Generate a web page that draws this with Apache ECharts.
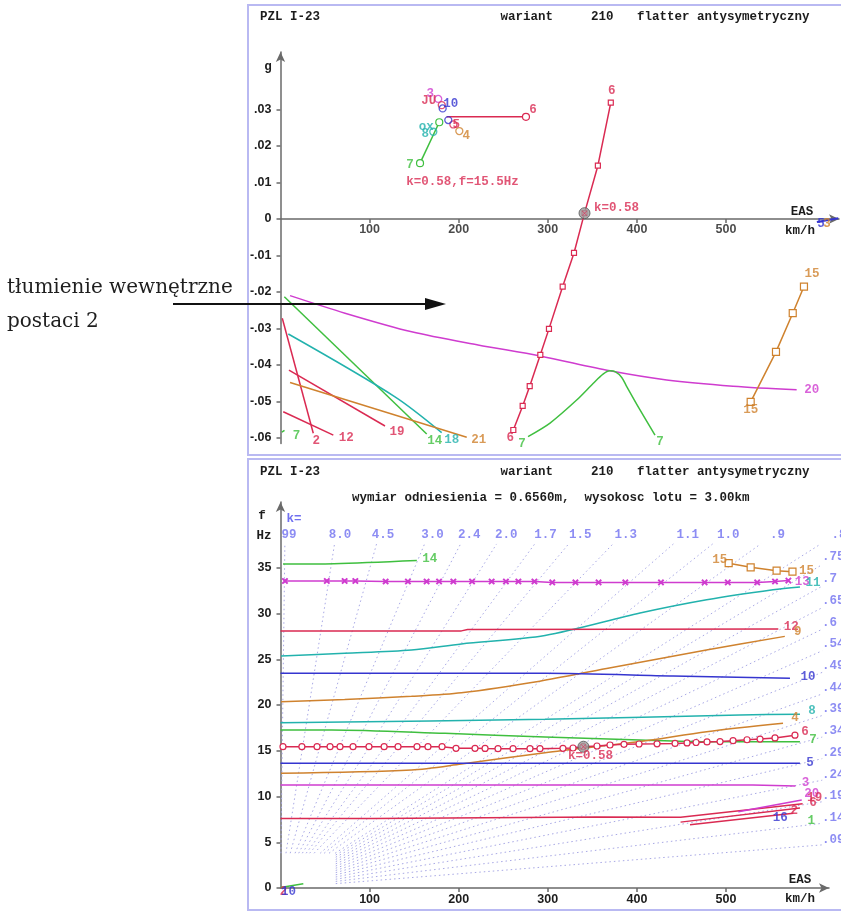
<!DOCTYPE html>
<html><head><meta charset="utf-8">
<script src="https://cdn.jsdelivr.net/npm/echarts@6/dist/echarts.min.js"></script>
<style>html,body{margin:0;padding:0;background:#fff;}#c{width:841px;height:911px;}</style>
</head><body><div id="c"></div>
<script>
// ================= DATA =================
// Top panel: V-g diagram, points are [EAS km/h, g]
const g6steep = [[261.3,-0.0578],[271.8,-0.0512],[279.7,-0.0458],[291.6,-0.0372],[301.3,-0.0301],[316.7,-0.0185],[329.4,-0.0093],[341.2,0.0016],[356.2,0.0146],[370.7,0.0319]];
const g6flat = [[186.5,0.0280],[275.5,0.0280]];
const g7short = [[156.6,0.0153],[178.2,0.0265]];
const g7hump = [[277.8,-0.0596],[302.5,-0.0559],[332.4,-0.0496],[351.1,-0.0450],[362.0,-0.0425],[369.8,-0.0416],[376.0,-0.0419],[383.0,-0.0434],[388.6,-0.0459],[403.5,-0.0523],[420.3,-0.0592]];
const g20 = [[10.7,-0.0210],[72.4,-0.0258],[147.2,-0.0309],[221.7,-0.0345],[291.2,-0.0375],[369.8,-0.0416],[433.4,-0.0441],[507.9,-0.0458],[579.3,-0.0468]];
const g15 = [[527.7,-0.0501],[556.1,-0.0364],[574.9,-0.0258],[587.5,-0.0185]];
const g2 = [[2.0,-0.0272],[36.8,-0.0587]];
const g12 = [[3.1,-0.0528],[59.3,-0.0592]];
const g19 = [[9.5,-0.0414],[117.3,-0.0567]];
const g14 = [[4.3,-0.0213],[164.1,-0.0589]];
const g18 = [[8.8,-0.0315],[128.5,-0.0487],[180.9,-0.0585]];
const g21 = [[10.7,-0.0448],[209.0,-0.0598]];
const g7stub = [[1.5,-0.0584],[4.5,-0.0579]];
const g5end = [[602,-0.0008],[626,0.0002]];
const gClusterMag = [[177.0,0.0329]];
const gClusterRed = [[181.0,0.0312],[194.0,0.0259]];
const gClusterBlue = [[182.0,0.0303],[188.3,0.0271]];
const gClusterOrange = [[200.7,0.0241]];
const gClusterCyan = [[171.5,0.0239]];
const gFlutter = [[341.2,0.0016]];
const gTicksY = [-0.06,-0.05,-0.04,-0.03,-0.02,-0.01,0,0.01,0.02,0.03];
const vTicks = [100,200,300,400,500];

// Bottom panel: V-f diagram, points are [EAS km/h, f Hz]
const f14 = [[2.8,35.4],[60,35.45],[153,35.8]];
const f13 = [[5,33.55],[52,33.55],[72,33.55],[84,33.55],[118,33.5],[143,33.5],[164,33.5],[178,33.5],[194,33.5],[215,33.5],[237,33.5],[253,33.5],[267,33.5],[285,33.5],[305,33.4],[331,33.4],[357,33.4],[387,33.4],[427,33.4],[476,33.4],[502,33.4],[535,33.4],[555,33.5],[570,33.6]];
const f15 = [[503,35.5],[527.7,35.05],[556.8,34.68],[574.6,34.57]];
const f11 = [[0.6,25.36],[72,25.65],[147,26.0],[203,26.67],[296.8,27.6],[403.5,30.05],[478.3,31.5],[552.8,32.6],[583,32.9]];
const f12 = [[0,28.1],[203,28.1],[210,28.25],[558.7,28.3]];
const f9 = [[0.6,20.36],[72,20.6],[147,20.95],[203,21.34],[291,22.6],[366,24.0],[478,26.0],[566,27.5]];
const f10 = [[0,23.46],[296.8,23.46],[440.5,23.17],[571.8,22.92]];
const f8 = [[0,18.06],[296.8,18.44],[515.7,18.91],[583,19.0]];
const f7 = [[0,17.27],[57.5,17.27],[184.6,16.9],[296.8,16.5],[403.5,16.17],[478.3,15.99],[583,15.99]];
const f6V = [2.8,24,41,55.6,66.8,81.4,99.3,116.3,131.9,153.2,165.5,181.3,197,218.3,229.6,244.1,261,280,291.2,317,328.3,339.5,355.2,369.8,385.5,402.4,422.6,442.8,456.3,466.4,478.7,493.3,507.9,523.6,538.2,555,577.4];
const f6F = [15.44,15.44,15.44,15.44,15.44,15.44,15.44,15.44,15.44,15.44,15.44,15.44,15.27,15.27,15.25,15.23,15.23,15.23,15.23,15.27,15.3,15.44,15.52,15.63,15.7,15.74,15.76,15.8,15.85,15.9,15.96,16.0,16.1,16.2,16.28,16.4,16.7];
const f4 = [[0.6,12.54],[147,12.9],[203,13.55],[296.8,14.79],[403.5,16.0],[478.3,17.08],[564,18.0]];
const f5 = [[0,13.63],[583,13.63]];
const f3 = [[0,11.26],[530,11.26],[531,11.15],[578,11.15]];
const f19 = [[0,7.6],[104,7.6],[105,7.75],[355,7.75],[356,7.65],[449,7.72],[586,9.2]];
const f8r = [[449,7.2],[583,8.74]];
const f2r = [[459.6,6.9],[575.6,8.16]];
const f20 = [[513.8,8.34],[585,9.62]];
const f1 = [[0,0.05],[25.6,0.47]];
const fFlutter = [[340,15.44]];
const fTicksY = [0,5,10,15,20,25,30,35];
// reduced-frequency (k) rays of the nomogram
const kTop = [99,8.0,4.5,3.0,2.4,2.0,1.7,1.5,1.3,1.1,1.0,0.9,0.8];
const kTopText = ['99','8.0','4.5','3.0','2.4','2.0','1.7','1.5','1.3','1.1','1.0','.9','.8'];
const kRight = [0.75,0.7,0.65,0.6,0.55,0.5,0.45,0.4,0.35,0.3,0.25,0.2,0.15,0.1];
const kRightText = ['.75','.7','.65','.6','.54','.49','.44','.39','.34','.29','.24','.19','.14','.09'];
const K_CONST = 12.9;      // f = k * V / K_CONST
const F_LABEL_ROW = 38.6, F_RAY_TOP = 37.6, V_RAY_END = 608, V_RIGHT_LABEL = 612.2, BOX_V = 62, BOX_F = 3.8;

// ================= STYLE =================
const FONT = 'Liberation Mono';
const TICKFONT = 'Liberation Sans';
const RED = '#da2a52', MAG = '#cf3ccf', BLUE = '#3535cf', CYAN = '#22b2ad', GREEN = '#3fbf3f', ORANGE = '#cf822e';
const KBLUE = '#7070f0', AXIS = '#6a6a6a', TEXT = '#1c1c1c', DOT = '#a9a9e6';
const PX_PER_KMH = 0.891;

const X1MAX = 558.5 / PX_PER_KMH, X2MAX = 548.5 / PX_PER_KMH;

function lineS(xi, arr, color, o) {
  o = o || {};
  const n = arr.length;
  const data = arr.map((d, i) => {
    if (o.ends) return (i === 0 && o.ends.indexOf('s') >= 0) || (i === n - 1 && o.ends.indexOf('e') >= 0) ? {value: d} : {value: d, symbol: 'none'};
    return {value: d};
  });
  return {
    type: 'line', xAxisIndex: xi, yAxisIndex: xi, data: data,
    symbol: o.symbol || 'none', symbolSize: o.size || 6, showSymbol: !!o.symbol,
    smooth: o.smooth || false, clip: false, silent: true, z: o.z || 3,
    lineStyle: {color: color, width: o.w || 1.5, type: o.type || 'solid'},
    itemStyle: {color: o.fill || '#ffffff', borderColor: color, borderWidth: 1.2}
  };
}
function ptsS(xi, arr, color, size) {
  return {type: 'scatter', xAxisIndex: xi, yAxisIndex: xi, data: arr, symbol: 'circle', symbolSize: size || 7,
    clip: false, silent: true, z: 5, itemStyle: {color: 'rgba(255,255,255,0)', borderColor: color, borderWidth: 1.3}};
}
function pick(arr, i) { return arr[i < 0 ? arr.length + i : i]; }
function labelS(xi, specs) {
  return {type: 'scatter', xAxisIndex: xi, yAxisIndex: xi, symbol: 'circle', symbolSize: 1, clip: false, silent: true, z: 20,
    itemStyle: {color: 'rgba(0,0,0,0)'},
    data: specs.map(s => ({value: s.at || pick(s.a, s.i), label: {show: true, position: 'inside', formatter: s.t, color: s.c,
      offset: s.off, fontFamily: s.font || FONT, fontWeight: 'bold', fontSize: 12.5, align: s.align || 'center', verticalAlign: 'middle'}}))};
}

const topLabels = [
  {a: g6steep, i: -1, t: '6', c: RED, off: [1, -12]},
  {a: g6steep, i: 0, t: '6', c: RED, off: [-3, 8]},
  {a: g6flat, i: -1, t: '6', c: RED, off: [7, -7]},
  {a: g7short, i: 0, t: '7', c: GREEN, off: [-10, 2]},
  {a: g7hump, i: 0, t: '7', c: GREEN, off: [-6, 7]},
  {a: g7hump, i: -1, t: '7', c: GREEN, off: [5, 7]},
  {a: g20, i: -1, t: '20', c: MAG, off: [15, 0]},
  {a: g15, i: -1, t: '15', c: ORANGE, off: [8, -13]},
  {a: g15, i: 0, t: '15', c: ORANGE, off: [0, 8]},
  {a: g2, i: -1, t: '2', c: RED, off: [3, 8]},
  {a: g12, i: -1, t: '12', c: RED, off: [13, 3]},
  {a: g19, i: -1, t: '19', c: RED, off: [12, 6]},
  {a: g14, i: -1, t: '14', c: GREEN, off: [8, 7]},
  {a: g18, i: -1, t: '18', c: CYAN, off: [10, 7]},
  {a: g21, i: -1, t: '21', c: ORANGE, off: [12, 3]},
  {a: g7stub, i: -1, t: '7', c: GREEN, off: [12, 5]},
  {a: gClusterMag, i: 0, t: '3', c: MAG, off: [-8, -5]},
  {a: gClusterBlue, i: 0, t: '10', c: BLUE, off: [8, -5]},
  {a: gClusterRed, i: 0, t: 'JU', c: RED, off: [-13, -4]},
  {a: gClusterCyan, i: 0, t: 'ox', c: CYAN, off: [-7, -5]},
  {a: gClusterCyan, i: 0, t: '8', c: CYAN, off: [-8, 2]},
  {a: gClusterOrange, i: 0, t: '4', c: ORANGE, off: [7, 5]},
  {a: gClusterRed, i: -1, t: '5', c: RED, off: [3, 0]},
  {a: gFlutter, i: 0, t: 'k=0.58', c: RED, off: [32, -5]},
  {a: gFlutter, i: 0, t: 'k=0.58,f=15.5Hz', c: RED, off: [-122, -31]},
  {a: g5end, i: 0, t: '5', c: BLUE, off: [4, 2]},
  {a: g5end, i: 0, t: '3', c: ORANGE, off: [10, 2]}
];
// tick labels of the top V axis sit on the g = 0 line
vTicks.forEach(v => topLabels.push({at: [v, 0], t: String(v), c: TEXT, off: [0, 11], font: TICKFONT}));

const f6 = f6V.map((v, i) => [v, f6F[i]]);
const botLabels = [
  {a: f14, i: -1, t: '14', c: GREEN, off: [13, -2]},
  {a: f13, i: -1, t: '13', c: MAG, off: [14, 1]},
  {a: f11, i: -1, t: '11', c: CYAN, off: [13, -4]},
  {a: f15, i: 0, t: '15', c: ORANGE, off: [-9, -3]},
  {a: f15, i: -1, t: '15', c: ORANGE, off: [14, -1]},
  {a: f12, i: -1, t: '12', c: RED, off: [13, -2]},
  {a: f9, i: -1, t: '9', c: ORANGE, off: [13, -5]},
  {a: f10, i: -1, t: '10', c: BLUE, off: [18, -1]},
  {a: f8, i: -1, t: '8', c: CYAN, off: [12, -3]},
  {a: f4, i: -1, t: '4', c: ORANGE, off: [12, -5]},
  {a: f6, i: -1, t: '6', c: RED, off: [10, -3]},
  {a: f7, i: -1, t: '7', c: GREEN, off: [13, -2]},
  {a: f5, i: -1, t: '5', c: BLUE, off: [10, 0]},
  {a: f3, i: -1, t: '3', c: MAG, off: [10, -3]},
  {a: f20, i: -1, t: '20', c: MAG, off: [10, -6]},
  {a: f19, i: -1, t: '19', c: RED, off: [12, -6]},
  {a: f8r, i: -1, t: '6', c: RED, off: [13, -5]},
  {a: f2r, i: -1, t: '2', c: RED, off: [1, -2]},
  {a: f2r, i: -1, t: '16', c: BLUE, off: [-13, 5]},
  {a: f2r, i: -1, t: '1', c: GREEN, off: [18, 8]},
  {a: f1, i: 0, t: '2', c: RED, off: [3, 4]},
  {a: f1, i: 0, t: '10', c: BLUE, off: [8, 4]},
  {a: fFlutter, i: 0, t: 'k=0.58', c: RED, off: [7, 9]}
];
kTop.forEach((k, i) => botLabels.push({at: [F_LABEL_ROW * K_CONST / k, F_LABEL_ROW], t: kTopText[i], c: KBLUE, off: [4, 0]}));
kRight.forEach((k, i) => botLabels.push({at: [V_RIGHT_LABEL, k * V_RIGHT_LABEL / K_CONST], t: kRightText[i], c: KBLUE, off: [-4, -5], align: 'left'}));

// k rays (constant reduced frequency) — straight lines between the corner box and the label edge
const kRays = [];
kTop.concat(kRight).forEach((k, i) => {
  const start = (k * BOX_V / K_CONST >= BOX_F) ? [BOX_F * K_CONST / k, BOX_F] : [BOX_V, k * BOX_V / K_CONST];
  const end = i < kTop.length ? [F_RAY_TOP * K_CONST / k, F_RAY_TOP] : [V_RAY_END, k * V_RAY_END / K_CONST];
  kRays.push(lineS(1, [start, end], DOT, {w: 1, type: [1.5, 3], z: 1}));
});

const crossPath = 'path://M0,1L1,0L5,4L9,0L10,1L6,5L10,9L9,10L5,6L1,10L0,9L4,5Z';
const axisFont = {fontFamily: TICKFONT, fontWeight: 'bold', fontSize: 12.5, color: TEXT};

const series = [].concat(
  kRays,
  [
    // top panel
    lineS(0, g20, MAG, {smooth: 0.3}),
    lineS(0, g7hump, GREEN, {smooth: 0.3}),
    lineS(0, g6steep, RED, {symbol: 'rect', size: 5}),
    lineS(0, g6flat, RED, {symbol: 'circle', size: 7, ends: 'e'}),
    lineS(0, g7short, GREEN, {symbol: 'circle', size: 7, ends: 'se'}),
    lineS(0, g15, ORANGE, {symbol: 'rect', size: 7}),
    lineS(0, g2, RED), lineS(0, g12, RED), lineS(0, g19, RED),
    lineS(0, g14, GREEN), lineS(0, g18, CYAN, {smooth: 0.3}), lineS(0, g21, ORANGE),
    lineS(0, g7stub, GREEN), lineS(0, g5end, BLUE, {w: 2}),
    ptsS(0, gClusterMag, MAG), ptsS(0, gClusterRed, RED), ptsS(0, gClusterBlue, BLUE),
    ptsS(0, gClusterOrange, ORANGE), ptsS(0, gClusterCyan, CYAN),
    {type: 'scatter', xAxisIndex: 0, yAxisIndex: 0, data: gFlutter, symbol: 'circle', symbolSize: 11, z: 8, silent: true,
      itemStyle: {color: '#9c9c9c', borderColor: '#555', borderWidth: 1}},
    {type: 'scatter', xAxisIndex: 0, yAxisIndex: 0, data: gFlutter, symbol: crossPath, symbolSize: 5, z: 9, silent: true, itemStyle: {color: RED}},
    labelS(0, topLabels),
    // bottom panel
    lineS(1, f14, GREEN, {smooth: 0.3}),
    lineS(1, f13, MAG, {symbol: crossPath, size: 5, fill: MAG}),
    lineS(1, f15, ORANGE, {symbol: 'rect', size: 7}),
    lineS(1, f11, CYAN, {smooth: 0.3}),
    lineS(1, f12, RED),
    lineS(1, f9, ORANGE, {smooth: 0.3}),
    lineS(1, f10, BLUE, {smooth: 0.3}),
    lineS(1, f8, CYAN, {smooth: 0.3}),
    lineS(1, f7, GREEN, {smooth: 0.3}),
    lineS(1, f4, ORANGE, {smooth: 0.3}),
    lineS(1, f6, RED, {symbol: 'circle', size: 6}),
    lineS(1, f5, BLUE), lineS(1, f3, MAG), lineS(1, f19, RED), lineS(1, f8r, RED),
    lineS(1, f2r, RED), lineS(1, f20, MAG), lineS(1, f1, GREEN),
    {type: 'scatter', xAxisIndex: 1, yAxisIndex: 1, data: fFlutter, symbol: 'circle', symbolSize: 11, z: 8, silent: true,
      itemStyle: {color: '#9c9c9c', borderColor: '#555', borderWidth: 1}},
    {type: 'scatter', xAxisIndex: 1, yAxisIndex: 1, data: fFlutter, symbol: crossPath, symbolSize: 5, z: 9, silent: true, itemStyle: {color: RED}},
    labelS(1, botLabels)
  ]
);

function txt(x, y, text, color, align, font) {
  return {type: 'text', x: x, y: y, z: 50, silent: true,
    style: {text: text, fill: color || TEXT, font: font || ('bold 12.5px "' + FONT + '"'), textAlign: align || 'left', textVerticalAlign: 'middle'}};
}

const graphic = [
  {type: 'rect', shape: {x: 248, y: 5, width: 620, height: 450}, style: {fill: 'none', stroke: '#b9b9f2', lineWidth: 2}, z: 0, silent: true},
  {type: 'rect', shape: {x: 248, y: 459, width: 620, height: 451}, style: {fill: 'none', stroke: '#b9b9f2', lineWidth: 2}, z: 0, silent: true},
  txt(260, 17, 'PZL I-23'), txt(500.5, 17, 'wariant'), txt(591, 17, '210'), txt(637, 17, 'flatter antysymetryczny'),
  txt(260, 472, 'PZL I-23'), txt(500.5, 472, 'wariant'), txt(591, 472, '210'), txt(637, 472, 'flatter antysymetryczny'),
  txt(352, 498, 'wymiar odniesienia = 0.6560m,  wysokosc lotu = 3.00km'),
  txt(268, 67, 'g', TEXT, 'center'),
  txt(802, 212, 'EAS', TEXT, 'center'), txt(800, 231, 'km/h', TEXT, 'center'),
  txt(800, 880, 'EAS', TEXT, 'center'), txt(800, 899, 'km/h', TEXT, 'center'),
  txt(262, 516, 'f', TEXT, 'center'), txt(264, 536, 'Hz', TEXT, 'center'), txt(294, 519, 'k=', KBLUE, 'center'),
  txt(7, 288, 'tłumienie wewnętrzne', '#1e1e1e', 'left', '20px "DejaVu Serif"'),
  txt(7, 322, 'postaci 2', '#1e1e1e', 'left', '20px "DejaVu Serif"'),
  {type: 'line', shape: {x1: 173, y1: 304, x2: 430, y2: 304}, style: {stroke: '#111', lineWidth: 2}, z: 60, silent: true},
  {type: 'polygon', shape: {points: [[425, 298], [446, 304], [425, 310]]}, style: {fill: '#111'}, z: 60, silent: true}
];

function fmtG(v) {
  if (Math.abs(v) < 1e-9) return '0';
  return (v < 0 ? '-' : '') + '.' + String(Math.round(Math.abs(v) * 100)).padStart(2, '0');
}
const axisLineStyle = {color: AXIS, width: 1.5};

const option = {
  animation: false,
  backgroundColor: '#ffffff',
  grid: [
    {left: 280.5, top: 52, width: 558.5, height: 391.5},
    {left: 280.5, top: 502, width: 548.5, height: 386}
  ],
  xAxis: [
    {gridIndex: 0, type: 'value', min: 0, max: X1MAX,
      axisLine: {onZero: true, symbol: ['none', 'arrow'], symbolSize: [7, 10], lineStyle: axisLineStyle},
      axisTick: {customValues: vTicks, length: 4, lineStyle: axisLineStyle},
      axisLabel: {show: false}, splitLine: {show: false}},
    {gridIndex: 1, type: 'value', min: 0, max: X2MAX,
      axisLine: {symbol: ['none', 'arrow'], symbolSize: [7, 10], lineStyle: axisLineStyle},
      axisTick: {customValues: vTicks, length: 4, lineStyle: axisLineStyle},
      axisLabel: Object.assign({customValues: vTicks, margin: 5}, axisFont), splitLine: {show: false}}
  ],
  yAxis: [
    {gridIndex: 0, type: 'value', min: -0.0615, max: 0.04575,
      axisLine: {onZero: false, symbol: ['none', 'arrow'], symbolSize: [7, 10], lineStyle: axisLineStyle},
      axisTick: {customValues: gTicksY, length: 4, lineStyle: axisLineStyle},
      axisLabel: Object.assign({customValues: gTicksY, margin: 9, formatter: fmtG}, axisFont), splitLine: {show: false}},
    {gridIndex: 1, type: 'value', min: 0, max: 386 / 9.15,
      axisLine: {onZero: false, symbol: ['none', 'arrow'], symbolSize: [7, 10], lineStyle: axisLineStyle},
      axisTick: {customValues: fTicksY, length: 4, lineStyle: axisLineStyle},
      axisLabel: Object.assign({customValues: fTicksY, margin: 9}, axisFont), splitLine: {show: false}}
  ],
  graphic: graphic,
  series: series
};

const chart = echarts.init(document.getElementById('c'), null, {renderer: 'canvas'});
chart.setOption(option);
</script></body></html>
